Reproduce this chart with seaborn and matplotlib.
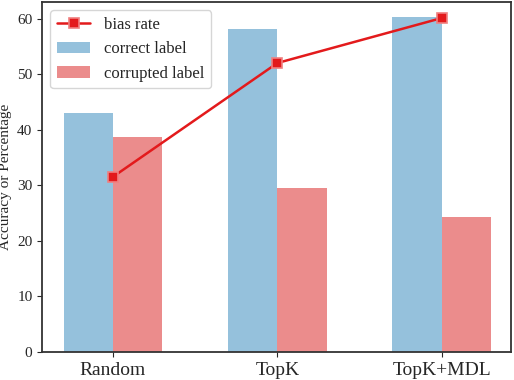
import numpy as np
import pandas as pd
import matplotlib
matplotlib.use("Agg")
import matplotlib.pyplot as plt
import seaborn as sns

categories = ["Random", "TopK", "TopK+MDL"]
correct_label = [43.0, 58.2, 60.2]
corrupted_label = [38.7, 29.5, 24.3]
bias_rate = [31.5, 52.0, 60.1]

sns.set_style("ticks")
plt.rcParams["font.family"] = ["Liberation Serif", "DejaVu Serif"]

df = pd.DataFrame({
    "method": categories * 2,
    "value": correct_label + corrupted_label,
    "kind": ["correct label"] * 3 + ["corrupted label"] * 3,
})

fig, ax = plt.subplots(figsize=(5.14, 3.80), dpi=100)
sns.barplot(data=df, x="method", y="value", hue="kind",
            palette={"correct label": "#95c1dc", "corrupted label": "#eb8c8c"},
            width=0.6, ax=ax, edgecolor="none", saturation=1)
xs = np.arange(len(categories))
line, = ax.plot(xs, bias_rate, color="#e31a1c", lw=1.8, marker="s",
                markersize=7, markerfacecolor="#e31a1c",
                markeredgecolor="#f08080", markeredgewidth=1.2, label="bias rate")

ax.set_xlim(-0.43, 2.42)
ax.set_ylim(0, 63)
ax.set_yticks([0, 10, 20, 30, 40, 50, 60])
ax.set_xlabel("")
ax.set_ylabel("Accuracy or Percentage", fontsize=11)
ax.tick_params(axis="x", labelsize=14)
ax.tick_params(axis="y", labelsize=11)
for s in ax.spines.values():
    s.set_color("#333333")
    s.set_linewidth(1.3)

handles, labels = ax.get_legend_handles_labels()
order = [labels.index("bias rate"), labels.index("correct label"), labels.index("corrupted label")]
ax.legend([handles[i] for i in order], [labels[i] for i in order],
          loc="upper left", fontsize=12, frameon=True, fancybox=True)

fig.subplots_adjust(left=0.082, right=0.994, top=0.995, bottom=0.074)
fig.savefig("out.png", dpi=100)
